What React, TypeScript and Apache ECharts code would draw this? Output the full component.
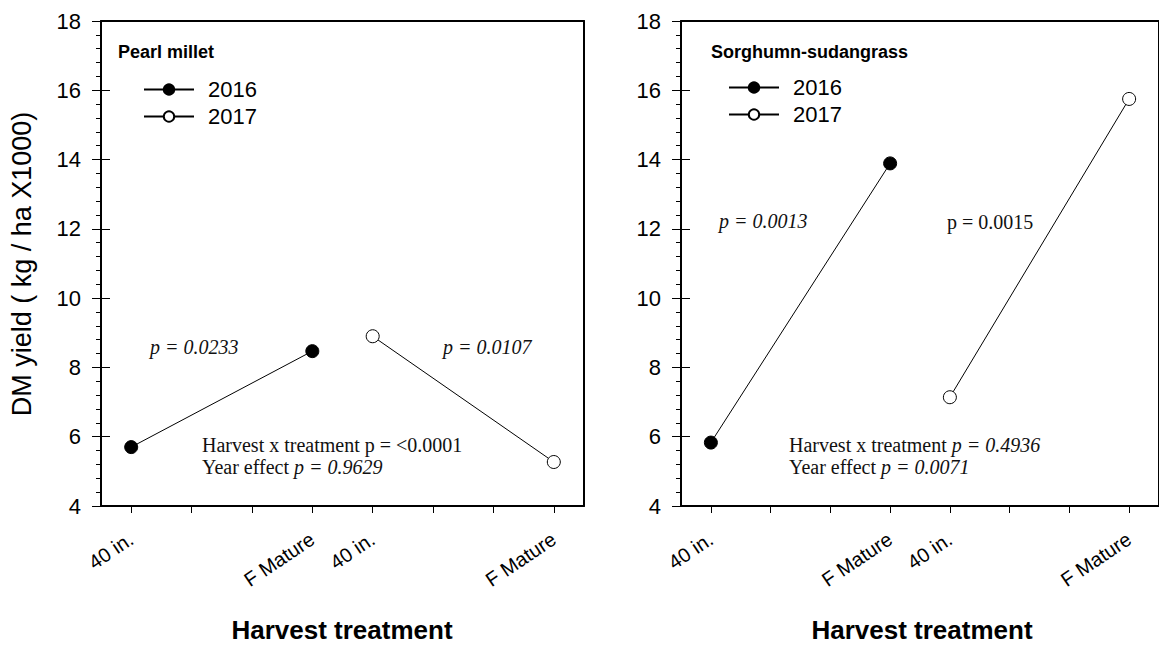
import React, { useEffect, useRef } from "react";
import * as echarts from "echarts";

// Harvest treatment slots along each panel's x axis (two years side by side)
const categories = ["40 in.", "", "", "F Mature", "40 in.", "", "", "F Mature"];
const slots2016 = [0, 3];
const slots2017 = [4, 7];

// DM yield (kg / ha x1000)
const millet2016 = [5.7, 8.47];
const millet2017 = [8.9, 5.27];
const sorghum2016 = [5.83, 13.89];
const sorghum2017 = [7.14, 15.75];

// y scale shared by both panels
const yTicks = { min: 4, max: 18, interval: 2 };

const SANS = "'Liberation Sans', Arial, sans-serif";
const SERIF = "'Liberation Serif', 'Times New Roman', serif";
const FRAME = { color: "#000", width: 2 };
const HAIR = { color: "#000", width: 1 };

// panel plot areas (px from the edges of the 1159x647 page)
const panels = [
  { left: 101, right: 575, top: 21, bottom: 141 },
  { left: 681, right: -5, top: 21, bottom: 141 },
];

const pair = (slots: number[], vals: number[]) => vals.map((v, i) => [slots[i], v]);

function xAxisBottom(gridIndex: number) {
  return {
    type: "category",
    gridIndex,
    position: "bottom",
    data: categories,
    boundaryGap: true,
    axisLine: { show: true, onZero: false, lineStyle: FRAME },
    axisTick: { show: true, alignWithLabel: true, interval: 0, length: 7, lineStyle: HAIR },
    axisLabel: { interval: 0, rotate: 34, margin: 31, color: "#000", fontFamily: SANS, fontSize: 20 },
    splitLine: { show: false },
  };
}

// top edge of the frame
function xAxisTop(gridIndex: number) {
  return {
    type: "category",
    gridIndex,
    position: "top",
    data: categories,
    axisLine: { show: true, onZero: false, lineStyle: FRAME },
    axisTick: { show: false },
    axisLabel: { show: false },
    splitLine: { show: false },
  };
}

function yAxisMain(gridIndex: number) {
  return {
    type: "value",
    gridIndex,
    position: "left",
    ...yTicks,
    axisLine: { show: true, onZero: false, lineStyle: FRAME },
    axisTick: { show: false },
    axisLabel: { color: "#000", fontFamily: SANS, fontSize: 22, margin: 20 },
    splitLine: { show: false },
  };
}

// right edge of the frame
function yAxisRight(gridIndex: number) {
  return {
    type: "value",
    gridIndex,
    position: "right",
    ...yTicks,
    axisLine: { show: true, onZero: false, lineStyle: FRAME },
    axisTick: { show: false },
    axisLabel: { show: false },
    splitLine: { show: false },
  };
}

function series(name: string, xi: number, yi: number, data: number[][], filled: boolean) {
  return {
    name,
    type: "line",
    xAxisIndex: xi,
    yAxisIndex: yi,
    data,
    symbol: "circle",
    symbolSize: 13,
    z: 5,
    lineStyle: { color: "#000", width: 1 },
    itemStyle: filled
      ? { color: "#000", borderColor: "#000", borderWidth: 1 }
      : { color: "#fff", borderColor: "#000", borderWidth: 1 },
  };
}

function note(x: number, y: number, text: string) {
  return {
    type: "text",
    x,
    y,
    style: {
      text,
      fill: "#111",
      fontFamily: SERIF,
      fontSize: 20,
      verticalAlign: "middle",
      align: "left",
      rich: {
        i: { fontFamily: SERIF, fontSize: 20, fontStyle: "italic", fill: "#111" },
        n: { fontFamily: SERIF, fontSize: 20, fill: "#111" },
      },
    },
  };
}

// tick layer: the y scale's major ticks (crossing the axis) and outer minor ticks
function tickAxis(gridIndex: number, inside: boolean) {
  return {
    type: "value",
    gridIndex,
    ...yTicks,
    axisLine: { show: false },
    axisTick: { show: true, inside, length: 9, lineStyle: HAIR },
    minorTick: { show: !inside, splitNumber: 5, length: 5, lineStyle: HAIR },
    axisLabel: { show: false },
    splitLine: { show: false },
    minorSplitLine: { show: false },
  };
}

const boxStyle = { position: "fixed" as const, left: 0, top: 0, width: 1159, height: 647 };

export default function App() {
  const ref = useRef<HTMLDivElement>(null);
  const tickRef = useRef<HTMLDivElement>(null);

  useEffect(() => {
    if (!ref.current || !tickRef.current) return;
    const chart = echarts.init(ref.current, undefined, { renderer: "svg" });
    const ticks = echarts.init(tickRef.current, undefined, { renderer: "svg" });

    const legendCommon = {
      orient: "vertical",
      padding: 0,
      itemWidth: 50,
      itemHeight: 13,
      itemGap: 2,
      textStyle: { color: "#000", fontFamily: SANS, fontSize: 22, lineHeight: 25, padding: [0, 0, 0, 9] },
      data: ["2016", "2017"],
      selectedMode: false,
    };

    chart.setOption({
      animation: false,
      backgroundColor: "#fff",
      grid: panels.map((p) => ({ ...p })),
      title: [
        { text: "Pearl millet", left: 113, top: 38, textStyle: { fontFamily: SANS, fontSize: 18, fontWeight: "bold", color: "#000" } },
        { text: "Sorghumn-sudangrass", left: 706, top: 38, textStyle: { fontFamily: SANS, fontSize: 18, fontWeight: "bold", color: "#000" } },
      ],
      legend: [
        { ...legendCommon, left: 143, top: 77 },
        { ...legendCommon, left: 728, top: 75 },
      ],
      xAxis: [xAxisBottom(0), xAxisBottom(1), xAxisTop(0), xAxisTop(1)],
      yAxis: [yAxisMain(0), yAxisMain(1), yAxisRight(0), yAxisRight(1)],
      series: [
        series("2016", 0, 0, pair(slots2016, millet2016), true),
        series("2017", 0, 0, pair(slots2017, millet2017), false),
        series("2016", 1, 1, pair(slots2016, sorghum2016), true),
        series("2017", 1, 1, pair(slots2017, sorghum2017), false),
      ],
      graphic: [
        {
          type: "text",
          x: 22,
          y: 264,
          rotation: Math.PI / 2,
          style: {
            text: "DM yield ( kg / ha X1000)",
            fill: "#000",
            fontFamily: SANS,
            fontSize: 27,
            align: "center",
            verticalAlign: "middle",
          },
        },
        {
          type: "text",
          x: 342,
          y: 630,
          style: { text: "Harvest treatment", fill: "#000", fontFamily: SANS, fontSize: 26, fontWeight: "bold", align: "center", verticalAlign: "middle" },
        },
        {
          type: "text",
          x: 922,
          y: 630,
          style: { text: "Harvest treatment", fill: "#000", fontFamily: SANS, fontSize: 26, fontWeight: "bold", align: "center", verticalAlign: "middle" },
        },
        note(150, 347, "{i|p = 0.0233}"),
        note(443, 347, "{i|p = 0.0107}"),
        note(202, 445, "{n|Harvest x treatment p = <0.0001}"),
        note(202, 467, "{n|Year effect }{i|p = 0.9629}"),
        note(719, 221, "{i|p = 0.0013}"),
        note(947, 222, "{n|p = 0.0015}"),
        note(789, 445, "{n|Harvest x treatment }{i|p = 0.4936}"),
        note(789, 467, "{n|Year effect }{i|p = 0.0071}"),
      ],
    });

    // transparent layer on top holding the y-axis tick marks of both panels
    ticks.setOption({
      animation: false,
      grid: [...panels, ...panels].map((p) => ({ ...p })),
      xAxis: [0, 1, 2, 3].map((i) => ({ type: "category", gridIndex: i, data: ["a", "b"], show: false })),
      yAxis: [tickAxis(0, false), tickAxis(1, false), tickAxis(2, true), tickAxis(3, true)],
    });

    return () => {
      chart.dispose();
      ticks.dispose();
    };
  }, []);

  return (
    <>
      <div ref={ref} style={boxStyle} />
      <div ref={tickRef} style={{ ...boxStyle, pointerEvents: "none" }} />
    </>
  );
}
